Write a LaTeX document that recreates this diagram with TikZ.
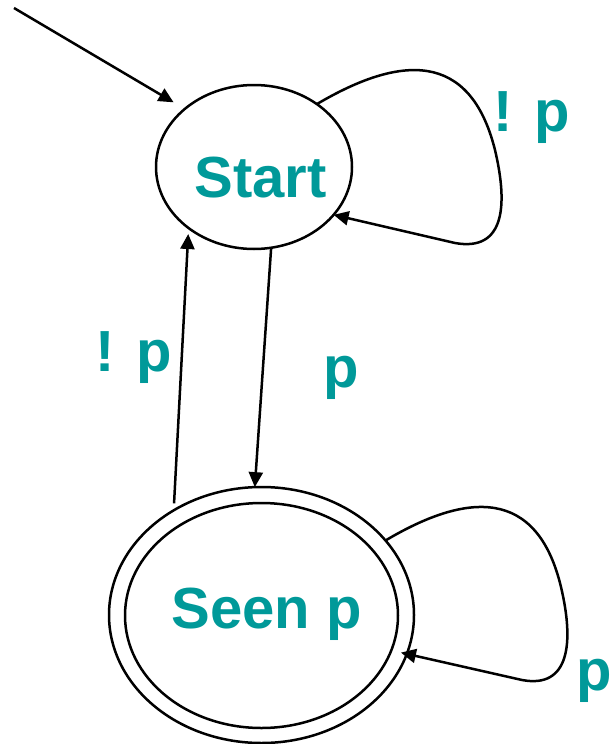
\documentclass[tikz,border=0pt]{standalone}
\usepackage{fontspec}
\setmainfont{Liberation Sans}
\usetikzlibrary{arrows.meta,shapes.geometric}
\definecolor{tealtext}{RGB}{0,153,153}
\begin{document}
\begin{tikzpicture}[x=1pt,y=-1pt,
  state/.style={draw,ellipse,line width=2.5pt,inner sep=0pt,outer sep=0pt},
  lbl/.style={text=tealtext,font=\fontsize{58}{60}\selectfont\bfseries,inner sep=0pt,anchor=base},
  arr/.style={line width=2.5pt,-{Triangle[length=15pt,width=14pt]}}]
\useasboundingbox (0,0) rectangle (611,744);
% states
\node[state,minimum width=196pt,minimum height=164pt] (start) at (254,167) {};
\node[state,minimum width=305pt,minimum height=256pt] (seen) at (261.5,615) {};
\node[state,minimum width=273pt,minimum height=225pt] (seeninner) at (261.5,615.5) {};
% state texts
\node[lbl] (starttext) at (260.5,197) {Start};
\node[lbl] (seentext) at (266.5,628) {Seen p};
% initial arrow
\coordinate (init) at (14,8);
\draw[arr,shorten >=13pt] (init) -- (start.140.7);
% transitions between states
\draw[arr] (start.-78) -- (seen.93.3);
\draw[arr,shorten <=7pt,shorten >=6pt] (seen.130) -- (start.223.6);
% self loops
\draw[arr] (start.45) .. controls (400,55) and (470,50) .. (495,150)
  .. controls (508,205) and (505,252) .. (455,243) -- (start.-31.7);
\draw[arr,shorten >=-6pt] (seen.31.3) .. controls (467,492) and (537,487) .. (561,587)
  .. controls (574,642) and (570,689) .. (522,680) -- (seen.-15.3);
% labels
\node[lbl] (l1) at (531.7,131) {! p};
\node[lbl] (l2) at (133.8,371) {! p};
\node[lbl] (l3) at (341,387) {p};
\node[lbl] (l4) at (594,690) {p};
\end{tikzpicture}
\end{document}
